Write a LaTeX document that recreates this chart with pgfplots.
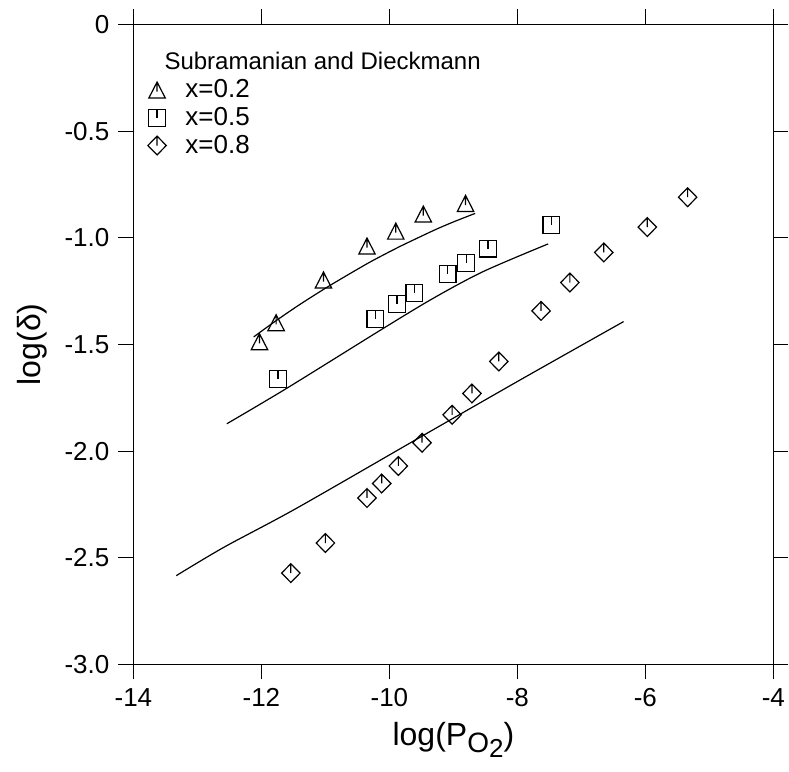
\documentclass[border=0pt]{standalone}
\usepackage{fontspec}
\setmainfont{Liberation Sans}
\usepackage{pgfplots}
\pgfplotsset{compat=1.18}

\pgfdeclareplotmark{tri}{%
  \pgfpathmoveto{\pgfqpoint{0pt}{4.2pt}}%
  \pgfpathlineto{\pgfqpoint{-4.1pt}{-3.8pt}}%
  \pgfpathlineto{\pgfqpoint{4.1pt}{-3.8pt}}%
  \pgfpathclose
  \pgfpathmoveto{\pgfqpoint{0pt}{4.2pt}}%
  \pgfpathlineto{\pgfqpoint{0pt}{-0.6pt}}%
  \pgfusepathqstroke}
\pgfdeclareplotmark{sq}{%
  \pgfpathrectangle{\pgfqpoint{-4.2pt}{-4.2pt}}{\pgfqpoint{8.4pt}{8.4pt}}%
  \pgfpathmoveto{\pgfqpoint{0pt}{4.2pt}}%
  \pgfpathlineto{\pgfqpoint{0pt}{0pt}}%
  \pgfusepathqstroke}
\pgfdeclareplotmark{dia}{%
  \pgfpathmoveto{\pgfqpoint{0pt}{4.7pt}}%
  \pgfpathlineto{\pgfqpoint{4.6pt}{0pt}}%
  \pgfpathlineto{\pgfqpoint{0pt}{-4.7pt}}%
  \pgfpathlineto{\pgfqpoint{-4.6pt}{0pt}}%
  \pgfpathclose
  \pgfpathmoveto{\pgfqpoint{0pt}{4.7pt}}%
  \pgfpathlineto{\pgfqpoint{0pt}{0pt}}%
  \pgfusepathqstroke}

\begin{document}
\begin{tikzpicture}
\begin{axis}[
  name=ax,
  width=320pt, height=320pt, scale only axis,
  xmin=-14, xmax=-4, ymin=-3, ymax=0,
  xtick={-14,-12,-10,-8,-6,-4},
  xticklabels={-14,-12,-10,-8,-6,-4},
  ytick={-3,-2.5,-2,-1.5,-1,-0.5,0},
  yticklabels={-3.0,-2.5,-2.0,-1.5,-1.0,-0.5,0},
  tick align=outside, tick pos=both,
  major tick length=7.5pt,
  axis line style={line width=0.55pt},
  every tick/.style={black, line width=0.55pt},
  tick label style={font=\fontsize{13}{15}\selectfont},
  xticklabel style={yshift=-1pt},
  yticklabel style={xshift=-1pt},
  xlabel={log(P\raisebox{-0.4ex}{\fontsize{14}{16}\selectfont O\raisebox{-0.35ex}{\fontsize{13}{15}\selectfont 2}})},
  ylabel={log(δ)},
  label style={font=\fontsize{16}{19}\selectfont},
  xlabel style={yshift=-1pt},
  ylabel style={yshift=2pt},
  clip=false,
  legend cell align=left,
  legend image code/.code={\draw[#1] plot coordinates {(0pt,0pt)};},
  legend style={draw=none, fill=none, at={(rel axis cs:0.022,0.919)}, anchor=north west,
    font=\fontsize{13}{15}\selectfont, row sep=0pt, column sep=8pt,
    inner sep=0pt, nodes={inner sep=1.6pt}},
]
\addplot[black, line width=0.6pt, smooth, forget plot] coordinates {
(-12.12,-1.465) (-11.80,-1.395) (-11.40,-1.313) (-10.93,-1.224) (-10.35,-1.122)
(-10.00,-1.066) (-9.83,-1.040) (-9.31,-0.966) (-9.00,-0.926) (-8.66,-0.886)};
\addplot[black, line width=0.6pt, smooth, forget plot] coordinates {
(-12.54,-1.872) (-11.60,-1.705) (-10.09,-1.424) (-9.31,-1.283) (-8.53,-1.158) (-7.52,-1.029)};
\addplot[black, line width=0.6pt, smooth, forget plot] coordinates {
(-13.33,-2.584) (-12.58,-2.450) (-11.45,-2.268) (-9.49,-1.930) (-7.93,-1.662) (-6.34,-1.393)};

\addplot[only marks, mark=tri, black, mark options={line width=0.6pt}] coordinates {
(-12.03,-1.489) (-11.77,-1.400) (-11.03,-1.200) (-10.35,-1.041) (-9.90,-0.971) (-9.47,-0.891) (-8.81,-0.841)};
\addlegendentry{x=0.2}
\addplot[only marks, mark=sq, black, mark options={line width=0.6pt}] coordinates {
(-11.74,-1.661) (-10.22,-1.380) (-9.88,-1.310) (-9.61,-1.260) (-9.09,-1.171) (-8.80,-1.119) (-8.46,-1.051) (-7.47,-0.940)};
\addlegendentry{x=0.5}
\addplot[only marks, mark=dia, black, mark options={line width=0.6pt}] coordinates {
(-11.54,-2.572) (-11.00,-2.431) (-10.35,-2.220) (-10.12,-2.152) (-9.86,-2.070) (-9.49,-1.961) (-9.02,-1.830)
(-8.71,-1.730) (-8.29,-1.580) (-7.63,-1.343) (-7.18,-1.210) (-6.65,-1.069) (-5.97,-0.950) (-5.34,-0.810)};
\addlegendentry{x=0.8}

\node[anchor=base west, font=\fontsize{12}{14}\selectfont, inner sep=0pt] at (rel axis cs:0.048,0.929) {Subramanian and Dieckmann};
\coordinate (bl) at (rel axis cs:0,0);
\coordinate (tr) at (rel axis cs:1,1);
\end{axis}
\pgfresetboundingbox
\path[use as bounding box] ([shift={(-66.7pt,-53.7pt)}]bl) rectangle ([shift={(7.8pt,12.2pt)}]tr);
\end{tikzpicture}
\end{document}
